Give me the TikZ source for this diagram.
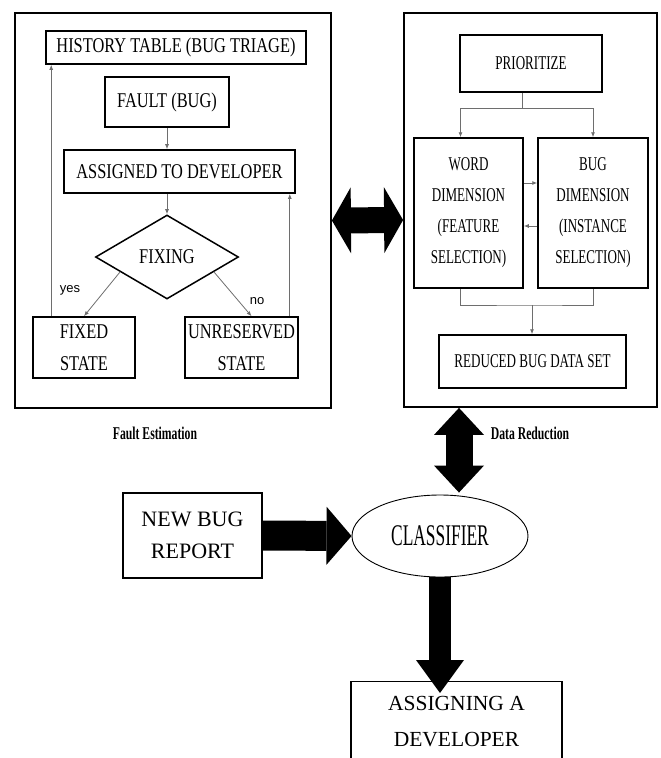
\documentclass[tikz,border=0pt]{standalone}
\usepackage{fontspec}
\setmainfont{Liberation Serif}
\newfontfamily\leftfont[FakeStretch=0.78]{Liberation Serif}
\newfontfamily\rightfont[FakeStretch=0.67]{Liberation Serif}
\newfontfamily\clsfont[FakeStretch=0.58]{Liberation Serif}
\newfontfamily\capfont[FakeStretch=0.65]{Liberation Serif}
\newfontfamily\yesfont{Liberation Sans}
\usetikzlibrary{arrows.meta,calc,positioning,shapes.geometric}
\definecolor{wire}{HTML}{6E6E6E}

\begin{document}
\begin{tikzpicture}[x=1pt,y=-1pt,
  panel/.style={draw,line width=1.8pt,inner sep=0pt},
  lbox/.style={draw,line width=1.6pt,inner sep=0pt,align=center,font=\leftfont\fontsize{21}{32}\selectfont},
  rbox/.style={draw,line width=1.5pt,inner sep=0pt,align=center,font=\rightfont\fontsize{19.5}{31}\selectfont},
  bbox/.style={draw,line width=1.2pt,inner sep=0pt,align=center},
  wire/.style={color=wire,line width=0.8pt},
  tip/.style={wire,-{Latex[length=5pt,width=4pt]}},
  lab/.style={font=\yesfont\fontsize{13}{13}\selectfont},
  caption/.style={font=\capfont\bfseries\fontsize{18}{18}\selectfont},
  fat/.style args={#1/#2/#3}{line width=#1,-{Triangle[length=#2,width=#3,line width=0pt]}},
  fatboth/.style args={#1/#2/#3}{line width=#1,{Triangle[length=#2,width=#3,line width=0pt]}-{Triangle[length=#2,width=#3,line width=0pt]}}]
  \useasboundingbox (0,0) rectangle (661,758);

  \node[panel,minimum width=316,minimum height=395] (fe) at (173,210.5) {};
  \node[panel,minimum width=253,minimum height=394] (dr) at (530.5,210) {};

  \node[lbox,minimum width=260,minimum height=33] (hist) at (176,47.5) {HISTORY TABLE (BUG TRIAGE)};
  \node[lbox,minimum width=124,minimum height=50] (fault) at (167,102) {FAULT (BUG)};
  \node[lbox,minimum width=231,minimum height=43] (assign) at (179.5,171.5) {ASSIGNED TO DEVELOPER};
  \node[lbox,diamond,line width=1.5pt,minimum width=143,minimum height=84] (fixing) at (167,257) {FIXING};
  \node[lbox,minimum width=102,minimum height=61] (fixed) at (84,347.5) {FIXED\\STATE};
  \node[lbox,minimum width=113,minimum height=61] (unres) at (241.5,347.5) {UNRESERVED\\STATE};
  \node[lab] (yes) at (70,290) {yes};
  \node[lab] (no) at (257,301) {no};

  \draw[tip] (fault) -- (fault |- assign.north);
  \draw[tip] (fixing.north |- assign.south) -- (fixing);
  \draw[tip] ($(fixing.west)!0.35!(fixing.south)$) -- (fixed.north);
  \draw[tip] ($(fixing.east)!0.35!(fixing.south)$) -- ([xshift=10]unres.north);
  \coordinate (fixup) at ($(fixed.north west)+(19,0)$);
  \coordinate (unup) at ($(unres.north east)+(-9,0)$);
  \draw[tip] (fixup) -- (fixup |- hist.south);
  \draw[tip] (unup) -- (unup |- assign.south);

  \node[rbox,minimum width=142,minimum height=57] (prio) at (531,63.5) {PRIORITIZE};
  \node[rbox,minimum width=109,minimum height=150] (word) at (468.5,213) {WORD\\DIMENSION\\(FEATURE\\SELECTION)};
  \node[rbox,minimum width=110,minimum height=150] (bugdim) at (593,213) {BUG\\DIMENSION\\(INSTANCE\\SELECTION)};
  \node[rbox,minimum width=187,minimum height=53] (reduced) at (532.5,361.5) {REDUCED BUG DATA SET};

  \coordinate (split) at (522,108);
  \coordinate (merge) at (532,305);
  \draw[wire] (split |- prio.south) -- (split);
  \draw[tip] (split) -| ([xshift=-8]word.north);
  \draw[tip] (split) -| (bugdim.north);
  \draw[tip] ([yshift=30]word.east) -- ([yshift=30]bugdim.west);
  \draw[tip] ([yshift=-13]bugdim.west) -- ([yshift=-13]word.east);
  \draw[wire] ([xshift=-8]word.south) |- (merge) -| (bugdim.south);
  \draw[tip] (merge) -- (merge |- reduced.north);

  \node[caption] (felab) at (155,433) {Fault Estimation};
  \node[caption] (drlab) at (530,433) {Data Reduction};

  \node[bbox,minimum width=139,minimum height=85,font=\fontsize{22}{32}\selectfont] (newbug) at (192.5,535.5) {NEW BUG\\REPORT};
  \node[draw,ellipse,line width=0.9pt,inner sep=0pt,minimum width=176,minimum height=82,font=\clsfont\fontsize{30}{30}\selectfont] (cls) at (440,536) {CLASSIFIER};
  \node[bbox,anchor=north,minimum width=211,minimum height=80,font=\fontsize{21.5}{36}\selectfont] (assigning) at (456.5,681) {ASSIGNING A\\DEVELOPER};

  \coordinate (vlink) at ($(cls.north)+(19,-2)$);
  \coordinate (dtip) at ($(cls.south |- assigning.north)+(0,12)$);
  \draw[fatboth=26pt/19pt/66pt] ([yshift=-10]fe.east) -- ([yshift=-10]dr.west);
  \draw[fatboth=27pt/27pt/50pt] (vlink |- dr.south) -- (vlink);
  \draw[fat=30pt/25pt/58pt] (newbug.east) -- (cls.west);
  \draw[fat=22pt/33pt/48pt] (cls.south) -- (dtip);
\end{tikzpicture}
\end{document}
